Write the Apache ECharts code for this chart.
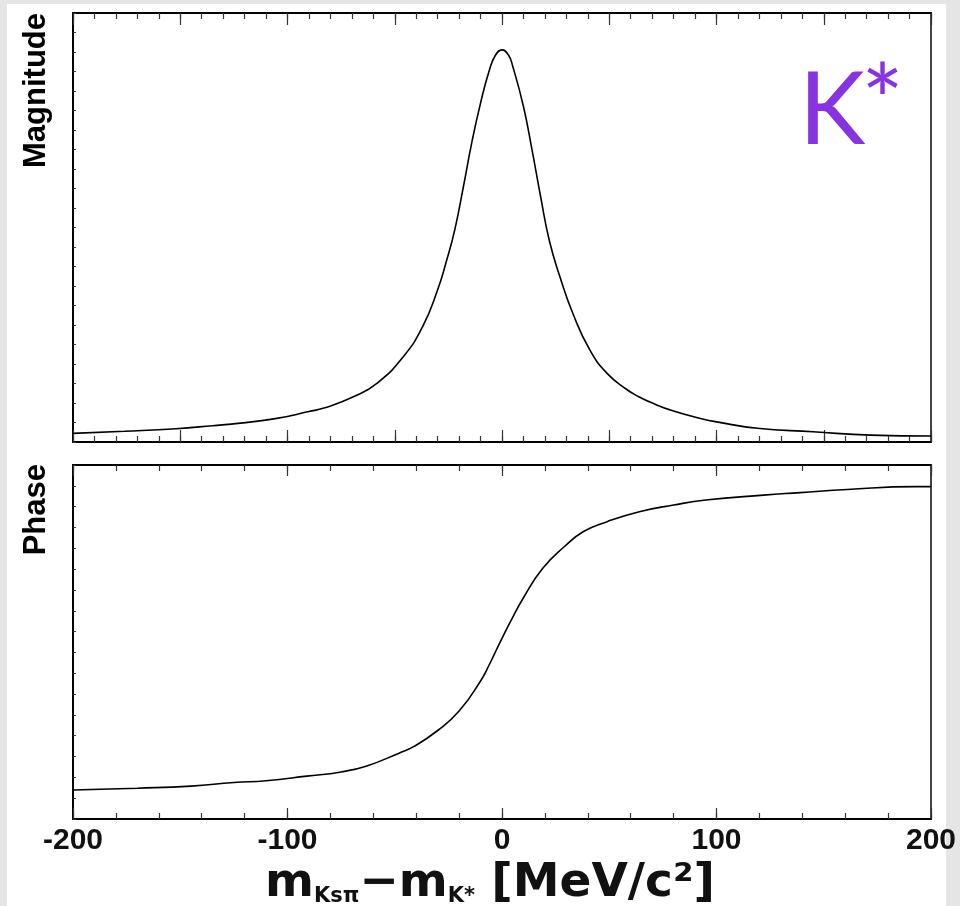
<!DOCTYPE html>
<html>
<head>
<meta charset="utf-8">
<script src="https://cdn.jsdelivr.net/npm/echarts@6/dist/echarts.min.js"></script>
<style>
html,body{margin:0;padding:0;background:#e5e5e5;}
#chart{width:960px;height:906px;}
</style>
</head>
<body>
<div id="chart"></div>
<script>
// Magnitude panel (arbitrary units, 0-100 scale of panel height)
const magX = [-200,-176,-152,-135,-122,-105,-90,-83,-69,-58,-46,-37,-30,-26,-22,-18,-14,-10,-6,-3,0,3,5,10,14,18,22,27,33,41,49,58,64,69,80,94,100,119,145,172,200];
const magY = [2.0,2.5,3.1,3.8,4.4,5.5,7.1,7.9,10.6,13.8,19.9,26.9,35.5,42.0,49.5,59.5,70.0,79.0,86.5,90.2,91.4,90.2,87.6,78.2,68.1,57.2,47.1,38.5,30.0,21.4,16.0,12.3,10.5,9.3,7.2,5.3,4.7,3.2,2.4,1.6,1.4];
// Phase panel (arbitrary units, 0-100 scale of panel height)
const phaseX = [-200,-170,-145,-125,-110,-91,-75,-63,-48,-41,-30,-20,-10,-6,-3,0,4,10,19,29,38,49,64,80,95,122,139,161,193,200];
const phaseY = [8.2,8.7,9.3,10.3,10.8,12.1,13.3,15.0,18.6,20.5,25.0,30.5,39.0,43.5,47.3,51.0,55.8,62.5,70.8,76.9,81.2,84.0,86.8,88.7,90.1,91.5,92.2,93.1,93.9,93.9];
const xTickValues = [-200,-100,0,100,200];
const xTickLabels = ['-200','-100','0','100','200'];

const magData = magX.map((x,i)=>[x, magY[i]]);
const phaseData = phaseX.map((x,i)=>[x, phaseY[i]]);

const chart = echarts.init(document.getElementById('chart'), null, {renderer:'canvas'});

function xAx(grid, pos, interval, tickLen, showLine, showLabel){
  return {
    type:'value', gridIndex:grid, position:pos, min:-200, max:200, interval:interval,
    axisLine:{show:showLine, onZero:false, lineStyle:{color:'#000', width:2}},
    axisTick:{show:true, inside:true, length:tickLen, lineStyle:{color:'#333', width:1.2}},
    splitLine:{show:false},
    axisLabel:{show:showLabel, color:'#111', fontFamily:'Liberation Sans, Arial', fontWeight:'bold', fontSize:30, margin:7,
      formatter:(v)=>{ const idx=xTickValues.indexOf(v); return idx>=0?xTickLabels[idx]:''; }}
  };
}
function yAx(grid, interval){
  return {
    type:'value', gridIndex:grid, position:'left', min:0, max:100, interval:interval,
    axisLine:{show:true, onZero:false, lineStyle:{color:'#000', width:2}},
    axisTick:{show:true, inside:true, length:3, lineStyle:{color:'#333', width:1}},
    splitLine:{show:false}, axisLabel:{show:false}
  };
}
function yRight(grid){
  return {
    type:'value', gridIndex:grid, position:'right', min:0, max:100,
    axisLine:{show:true, onZero:false, lineStyle:{color:'#444', width:2}},
    axisTick:{show:false}, splitLine:{show:false}, axisLabel:{show:false}
  };
}

chart.setOption({
  backgroundColor:'#e5e5e5',
  animation:false,
  graphic:[
    {type:'rect', z:-10, shape:{x:7, y:4, width:939, height:902}, style:{fill:'#fff'}},
    {type:'text', z:10, x:52, y:13, rotation:Math.PI/2, style:{text:'Magnitude', fill:'#000', font:'bold 31px "Liberation Sans", Arial', align:'right', verticalAlign:'bottom'}},
    {type:'text', z:10, x:52, y:464, rotation:Math.PI/2, style:{text:'Phase', fill:'#000', font:'bold 31px "Liberation Sans", Arial', align:'right', verticalAlign:'bottom'}},
    {type:'text', z:10, x:799, y:111.5, style:{text:'K', fill:'#8833e0', font:'100px Lato', align:'left', verticalAlign:'middle'}},
    {type:'text', z:10, x:882.5, y:106, style:{text:'*', fill:'#8833e0', font:'100px Lato', align:'center', verticalAlign:'middle'}},
    {type:'text', z:10, x:490, y:881, style:{
      text:'{m|m}{s|Ksπ}{m|−m}{s|K*}{m| [MeV/c²]}',
      align:'center', verticalAlign:'middle', fill:'#111',
      rich:{
        m:{fontFamily:'DejaVu Sans', fontWeight:'bold', fontSize:47, lineHeight:52, verticalAlign:'bottom', fill:'#111'},
        s:{fontFamily:'DejaVu Sans', fontWeight:'bold', fontSize:21, lineHeight:22, verticalAlign:'bottom', fill:'#111'}
      }}}
  ],
  grid:[
    {left:73, top:13, width:858, height:429},
    {left:73, top:465, width:858, height:354}
  ],
  xAxis:[
    xAx(0,'bottom',50,12,true,false),
    xAx(0,'top',50,12,true,false),
    xAx(1,'bottom',100,11,true,true),
    xAx(1,'top',100,11,true,false),
    xAx(0,'bottom',10,6,false,false),
    xAx(0,'top',10,6,false,false),
    xAx(1,'bottom',20,6,false,false),
    xAx(1,'top',20,6,false,false)
  ],
  yAxis:[
    yAx(0,100/22), yRight(0),
    yAx(1,100/17), yRight(1)
  ],
  series:[
    {type:'line', xAxisIndex:0, yAxisIndex:0, data:magData, showSymbol:false, smooth:0.5,
     lineStyle:{color:'#000', width:1.6}},
    {type:'line', xAxisIndex:2, yAxisIndex:2, data:phaseData, showSymbol:false, smooth:0.5,
     lineStyle:{color:'#000', width:1.6}}
  ]
});
</script>
</body>
</html>
